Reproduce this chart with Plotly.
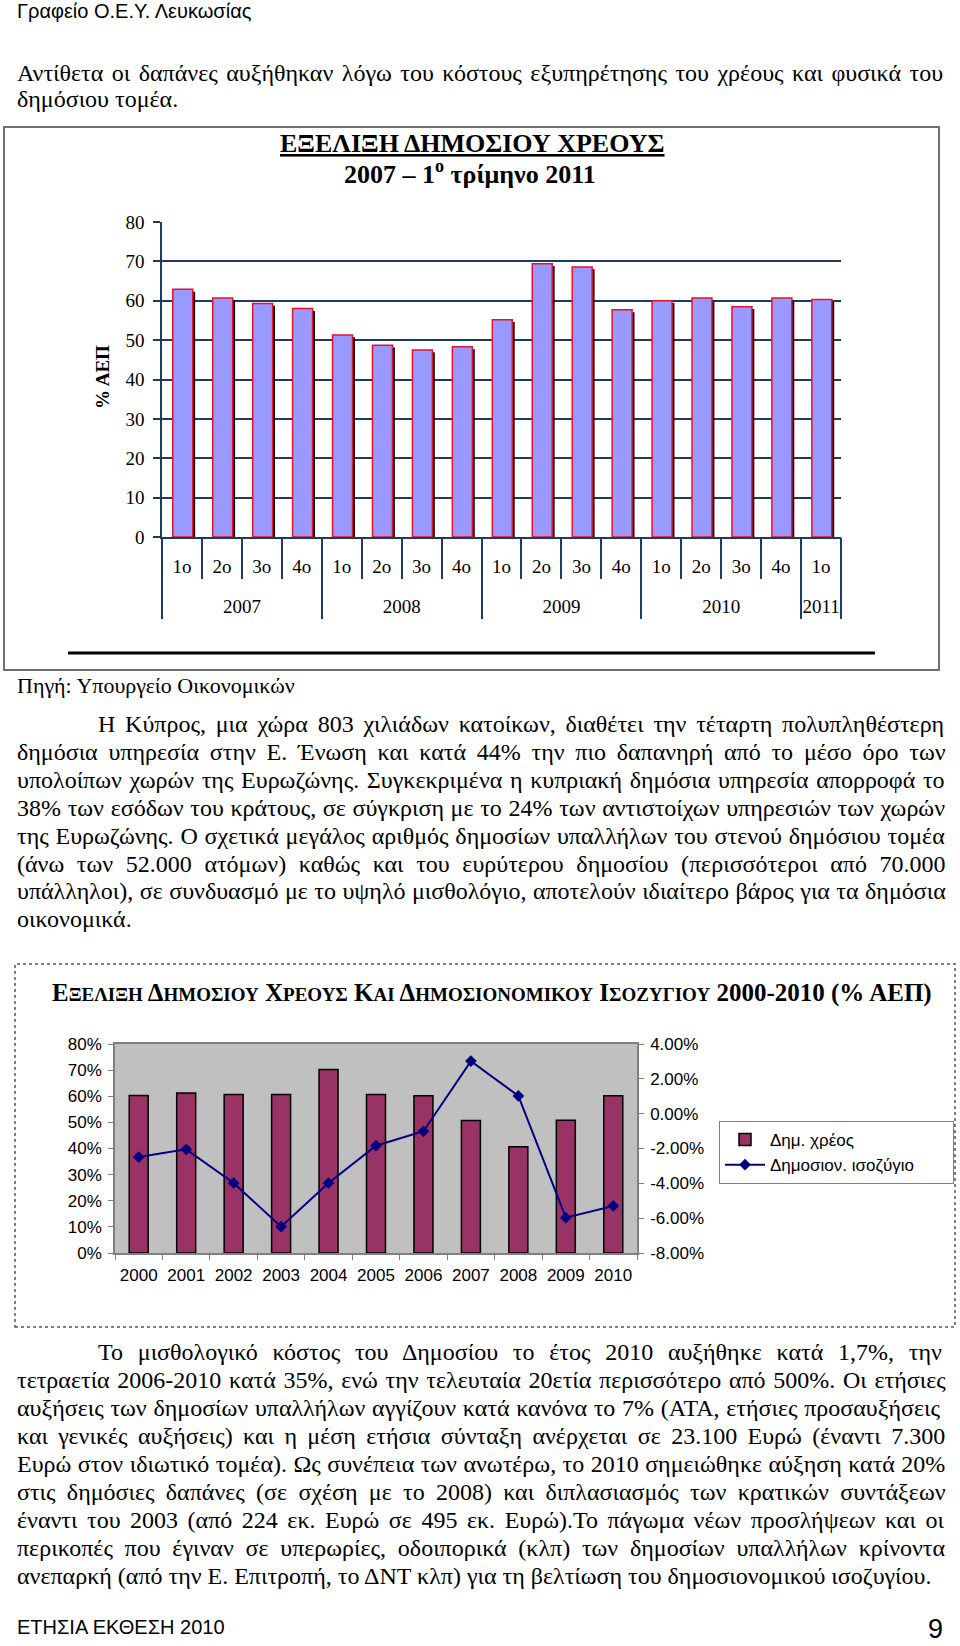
import glob
import struct
import plotly.graph_objects as go

PAGE_W, PAGE_H = 960, 1646

# ---------------- chart 1 data (public debt by quarter, % of GDP) ----------------
years_q = ["2007", "2008", "2009", "2010", "2011"]
quarters_in_year = [4, 4, 4, 4, 1]
quarter_labels = ["1ο", "2ο", "3ο", "4ο", "1ο", "2ο", "3ο", "4ο",
                  "1ο", "2ο", "3ο", "4ο", "1ο", "2ο", "3ο", "4ο", "1ο"]
debt_quarterly = [62.9, 60.7, 59.3, 58.0, 51.3, 48.7, 47.5, 48.3,
                  55.2, 69.4, 68.6, 57.7, 60.0, 60.7, 58.5, 60.7, 60.3]

# ---------------- chart 2 data (annual debt and balance, % of GDP) ----------------
years_a = ["2000", "2001", "2002", "2003", "2004", "2005",
           "2006", "2007", "2008", "2009", "2010"]
debt_annual = [60.3, 61.2, 60.7, 60.7, 70.2, 60.7, 60.2, 50.7, 40.7, 50.8, 60.2]
balance_annual = [-2.49, -2.05, -3.98, -6.49, -3.98, -1.84, -1.01, 3.02, 1.02, -5.97, -5.30]
balance_ticks = [-8, -6, -4, -2, 0, 2, 4]

# ---------------- page texts ----------------
header_text = "Γραφείο Ο.Ε.Υ. Λευκωσίας"
intro_lines = [
    "Αντίθετα οι δαπάνες αυξήθηκαν λόγω του κόστους εξυπηρέτησης του χρέους και φυσικά του",
    "δημόσιου τομέα.",
]
chart1_title = "ΕΞΕΛΙΞΗ ΔΗΜΟΣΙΟΥ ΧΡΕΟΥΣ"
chart1_subtitle = "2007 – 1<sup>ο</sup> τρίμηνο 2011"
chart1_ytitle = "% ΑΕΠ"
source_text = "Πηγή: Υπουργείο Οικονομικών"
para1_lines = [
    "Η Κύπρος, μια χώρα 803 χιλιάδων κατοίκων, διαθέτει την τέταρτη πολυπληθέστερη",
    "δημόσια υπηρεσία στην Ε. Ένωση και κατά 44% την πιο δαπανηρή από το μέσο όρο των",
    "υπολοίπων χωρών της Ευρωζώνης. Συγκεκριμένα η κυπριακή δημόσια υπηρεσία απορροφά το",
    "38% των εσόδων του κράτους, σε σύγκριση με το 24% των αντιστοίχων υπηρεσιών των χωρών",
    "της Ευρωζώνης. Ο σχετικά μεγάλος αριθμός δημοσίων υπαλλήλων του στενού δημόσιου τομέα",
    "(άνω των 52.000 ατόμων) καθώς και του ευρύτερου δημοσίου (περισσότεροι από 70.000",
    "υπάλληλοι), σε συνδυασμό με το υψηλό μισθολόγιο, αποτελούν ιδιαίτερο βάρος για τα δημόσια",
    "οικονομικά.",
]
title2_words = ["ΕΞΕΛΙΞΗ", "ΔΗΜΟΣΙΟΥ", "ΧΡΕΟΥΣ", "ΚΑΙ", "ΔΗΜΟΣΙΟΝΟΜΙΚΟΥ", "ΙΣΟΖΥΓΙΟΥ"]
title2_tail = "2000-2010 (% ΑΕΠ)"
legend_names = ["Δημ. χρέος", "Δημοσιον. ισοζύγιο"]
para2_lines = [
    "Το μισθολογικό κόστος του Δημοσίου το έτος 2010 αυξήθηκε κατά 1,7%, την",
    "τετραετία 2006-2010 κατά 35%, ενώ την τελευταία 20ετία περισσότερο από 500%. Οι ετήσιες",
    "αυξήσεις των δημοσίων υπαλλήλων αγγίζουν κατά κανόνα το 7% (ΑΤΑ, ετήσιες προσαυξήσεις",
    "και γενικές αυξήσεις) και η μέση ετήσια σύνταξη ανέρχεται σε 23.100 Ευρώ (έναντι 7.300",
    "Ευρώ στον ιδιωτικό τομέα). Ως συνέπεια των ανωτέρω, το 2010 σημειώθηκε αύξηση κατά 20%",
    "στις δημόσιες δαπάνες (σε σχέση με το 2008) και διπλασιασμός των κρατικών συντάξεων",
    "έναντι του 2003 (από 224 εκ. Ευρώ σε 495 εκ. Ευρώ).Το πάγωμα νέων προσλήψεων και οι",
    "περικοπές που έγιναν σε υπερωρίες, οδοιπορικά (κλπ) των δημοσίων υπαλλήλων κρίνοντα",
    "ανεπαρκή (από την Ε. Επιτροπή, το ΔΝΤ κλπ) για τη βελτίωση του δημοσιονομικού ισοζυγίου.",
]
footer_left = "ΕΤΗΣΙΑ ΕΚΘΕΣΗ 2010"
footer_right = "9"

SERIF = "Liberation Serif, Times New Roman, serif"
SANS = "Liberation Sans, Arial, sans-serif"
NARROW = "Liberation Sans Narrow, Arial Narrow, Liberation Sans, sans-serif"
NAVY = "#1F3A60"
BODY_SIZE = 24
SOURCE_SIZE = 22
LEGEND_PAD = "\u00a0" * 7


def X(px):
    return px / PAGE_W


def Y(px):
    return 1 - px / PAGE_H


# ---------- font metrics (for justified text lines) ----------
def load_metrics():
    paths = []
    for pat in ["/usr/share/fonts/**/LiberationSerif-Regular.ttf",
                "/usr/local/share/fonts/**/LiberationSerif-Regular.ttf",
                "/usr/share/fonts/**/Liberation*Serif*Regular*.ttf"]:
        paths += glob.glob(pat, recursive=True)
    if not paths:
        return None
    try:
        data = open(paths[0], "rb").read()
        u16 = lambda o: struct.unpack(">H", data[o:o + 2])[0]
        s16 = lambda o: struct.unpack(">h", data[o:o + 2])[0]
        num = u16(4)
        tables = {}
        for i in range(num):
            tag, cs, off, ln = struct.unpack(">4sIII", data[12 + 16 * i:28 + 16 * i])
            tables[tag.decode("latin1")] = off
        upm = u16(tables["head"] + 18)
        nhm = u16(tables["hhea"] + 34)
        hm = tables["hmtx"]
        adv = [u16(hm + 4 * i) for i in range(nhm)]
        cm = tables["cmap"]
        nsub = u16(cm + 2)
        sub = None
        for i in range(nsub):
            pid, eid, so = struct.unpack(">HHI", data[cm + 4 + 8 * i:cm + 12 + 8 * i])
            if pid == 3 and eid == 1 and u16(cm + so) == 4:
                sub = cm + so
        cmap = {}
        seg2 = u16(sub + 6)
        seg = seg2 // 2
        ends = sub + 14
        starts = ends + seg2 + 2
        deltas = starts + seg2
        ranges = deltas + seg2
        for i in range(seg):
            e = u16(ends + 2 * i)
            s = u16(starts + 2 * i)
            d = s16(deltas + 2 * i)
            ro = u16(ranges + 2 * i)
            for c in range(s, e + 1):
                if c == 0xFFFF:
                    continue
                if ro == 0:
                    g = (c + d) & 0xFFFF
                else:
                    g = u16(ranges + 2 * i + ro + 2 * (c - s))
                    if g:
                        g = (g + d) & 0xFFFF
                cmap[c] = g
        return upm, adv, cmap
    except Exception:
        return None


METRICS = load_metrics()


def text_width(s, size):
    if METRICS is None:
        return len(s) * 0.46 * size
    upm, adv, cmap = METRICS
    w = 0
    for ch in s:
        g = cmap.get(ord(ch), 0)
        w += adv[min(g, len(adv) - 1)]
    return w * size / upm


annotations = []


def add_text(text, x, y, size, family=SERIF, xanchor="left", **kw):
    annotations.append(dict(text=text, x=X(x), y=Y(y), xref="paper", yref="paper",
                            xanchor=xanchor, yanchor="middle", showarrow=False,
                            font=dict(family=family, size=size, color="black"), **kw))


def add_paragraph(lines, y0, step, left, right, indent, justify_last=False):
    for i, line in enumerate(lines):
        x0 = left + (indent if i == 0 else 0)
        last = i == len(lines) - 1
        txt = line
        if not last or justify_last:
            n_sp = line.count(" ")
            if n_sp:
                ws = (right - x0 - text_width(line, BODY_SIZE)) / n_sp
                txt = f"<span style='word-spacing:{ws:.2f}px'>{line}</span>"
        add_text(txt, x0, y0 + i * step, BODY_SIZE)


# ---------------- figure ----------------
fig = go.Figure()

# chart 1 bars (shadow + main)
n_q = len(debt_quarterly)
idx = list(range(n_q))
fig.add_trace(go.Bar(x=idx, y=[v - 0.6 for v in debt_quarterly], width=0.5, offset=-0.17,
                     marker=dict(color="black", line=dict(width=0)),
                     xaxis="x", yaxis="y", showlegend=False, hoverinfo="skip"))
fig.add_trace(go.Bar(x=idx, y=debt_quarterly, width=0.5, offset=-0.23,
                     marker=dict(color="#9999FF", line=dict(color="#E8112D", width=1.5)),
                     xaxis="x", yaxis="y", showlegend=False))
# empty traces so that the helper axes of the grouped category axis get drawn
for ax in ["x3", "x4", "x5"]:
    fig.add_trace(go.Scatter(x=[None], y=[None], xaxis=ax, yaxis="y", mode="markers",
                             showlegend=False, hoverinfo="skip"))

# chart 2
fig.add_trace(go.Bar(x=years_a, y=debt_annual, name=legend_names[0], width=0.4,
                     marker=dict(color="#993366", line=dict(color="black", width=1.5)),
                     xaxis="x2", yaxis="y2"))
fig.add_trace(go.Scatter(x=years_a, y=balance_annual, name=legend_names[1] + LEGEND_PAD,
                         mode="lines+markers", line=dict(color="#000080", width=2),
                         marker=dict(symbol="diamond", size=9, color="#000080"),
                         xaxis="x2", yaxis="y3"))

# axis helpers for chart 1 grouped category axis
starts = []
acc = 0
for k in quarters_in_year:
    starts.append(acc)
    acc += k
quarter_bounds = [s + j - 0.5 for s, k in zip(starts, quarters_in_year) for j in range(1, k)]
year_bounds = [s - 0.5 for s in starts] + [n_q - 0.5]
year_centers = [s + (k - 1) / 2 for s, k in zip(starts, quarters_in_year)]
xr = [-0.5, n_q - 0.5]

c1_dom_x = [X(162), X(841)]
c1_dom_y = [Y(537), Y(222)]
c2_dom_x = [X(115), X(637)]
c2_dom_y = [Y(1253), Y(1044)]

tf1 = dict(family=SERIF, size=19, color="black")
tf2 = dict(family=SANS, size=17, color="black")

fig.update_layout(
    width=PAGE_W, height=PAGE_H,
    margin=dict(l=0, r=0, t=0, b=0, pad=0, autoexpand=False),
    paper_bgcolor="white", plot_bgcolor="white", barmode="overlay",
    hovermode=False, font=dict(family=SERIF, color="black"),
    xaxis=dict(domain=c1_dom_x, anchor="y", range=xr, tickmode="array", tickvals=idx,
               ticktext=quarter_labels, ticks="", showgrid=False, zeroline=False,
               showline=True, linecolor=NAVY, linewidth=1.5, tickfont=tf1,
               ticklabelstandoff=11, automargin=False),
    xaxis3=dict(overlaying="x", anchor="y", range=xr, tickmode="array", tickvals=quarter_bounds,
                ticks="outside", ticklen=41, tickwidth=1.5, tickcolor=NAVY,
                showticklabels=False, showgrid=False, zeroline=False, showline=False,
                automargin=False),
    xaxis4=dict(overlaying="x", anchor="y", range=xr, tickmode="array", tickvals=year_bounds,
                ticks="outside", ticklen=81, tickwidth=1.5, tickcolor=NAVY,
                showticklabels=False, showgrid=False, zeroline=False, showline=False,
                automargin=False),
    xaxis5=dict(overlaying="x", anchor="y", range=xr, tickmode="array", tickvals=year_centers,
                ticktext=years_q, ticks="", showgrid=False, zeroline=False, showline=False,
                tickfont=tf1, ticklabelstandoff=56, automargin=False),
    yaxis=dict(domain=c1_dom_y, anchor="x", range=[0, 80], dtick=10, showgrid=True,
               gridcolor=NAVY, gridwidth=1.5, ticks="outside", ticklen=7, tickwidth=1.5,
               tickcolor=NAVY, showline=True, linecolor=NAVY, linewidth=1.5, zeroline=False,
               tickfont=tf1, ticklabelstandoff=5, automargin=False),
    xaxis2=dict(domain=c2_dom_x, anchor="y2", type="category", tickson="boundaries",
                range=[-0.5, len(years_a) - 0.5],
                ticks="outside", ticklen=5, tickcolor="#808080", showline=True, mirror=True,
                linecolor="#808080", linewidth=1.5, showgrid=False, zeroline=False,
                tickfont=tf2, tickangle=0, ticklabelstandoff=6, automargin=False),
    yaxis2=dict(domain=c2_dom_y, anchor="x2", range=[0, 80], dtick=10, ticksuffix="%",
                ticks="outside", ticklen=5, tickcolor="#808080", showline=True,
                linecolor="#808080", linewidth=1.5, showgrid=False, zeroline=False,
                tickfont=tf2, ticklabelstandoff=3, automargin=False),
    yaxis3=dict(overlaying="y2", side="right", anchor="x2", range=[-8, 4],
                tickmode="array", tickvals=balance_ticks,
                ticktext=[f"{v:.2f}%" for v in balance_ticks], ticks="outside", ticklen=5,
                tickcolor="#808080", showline=True, linecolor="#808080", linewidth=1.5,
                showgrid=False, zeroline=False, tickfont=tf2, ticklabelstandoff=3,
                automargin=False),
    legend=dict(x=X(719), y=Y(1121), xanchor="left", yanchor="top", bgcolor="white",
                bordercolor="#808080", borderwidth=1, font=dict(family=SANS, size=17, color="black"),
                itemwidth=40),
)

shapes = [
    # chart 1 frame
    dict(type="rect", xref="paper", yref="paper", x0=X(4), x1=X(939), y0=Y(670), y1=Y(127),
         line=dict(color="#707070", width=2), layer="below"),
    # thick rule under chart 1
    dict(type="line", xref="paper", yref="paper", x0=X(68), x1=X(875), y0=Y(653), y1=Y(653),
         line=dict(color="black", width=3)),
    # chart 2 dotted frame
    dict(type="rect", xref="paper", yref="paper", x0=X(15), x1=X(955), y0=Y(1327), y1=Y(964),
         line=dict(color="#555555", width=1.5, dash="dot"), layer="below"),
    # chart 2 plot-area background
    dict(type="rect", xref="x2 domain", yref="y2 domain", x0=0, x1=1, y0=0, y1=1,
         fillcolor="#C0C0C0", line=dict(width=0), layer="below"),
]

# texts
add_text(header_text, 15, 11, 20, family=NARROW)
add_paragraph(intro_lines, 73, 26, 15, 944, 0)
add_text(f"<b><u>{chart1_title}</u></b>", 472, 143, 26, xanchor="center")
add_text(f"<b>{chart1_subtitle}</b>", 470, 173, 26, xanchor="center")
add_text(f"<b>{chart1_ytitle}</b>", 102, 377, 19, xanchor="center", textangle=-90)
add_text(source_text, 15, 685, SOURCE_SIZE)
add_paragraph(para1_lines, 724, 27.9, 15, 944, 81)
small_caps = " ".join(f"{w[0]}<span style='font-size:19px'>{w[1:]}</span>" for w in title2_words)
add_text(f"<b>{small_caps} {title2_tail}</b>", 492, 993, 25, xanchor="center")
add_paragraph(para2_lines, 1352, 28.0, 15, 944, 81)
add_text(footer_left, 15, 1627, 20, family=NARROW)
add_text(footer_right, 945, 1629, 27, family=NARROW, xanchor="right")

fig.update_layout(annotations=annotations, shapes=shapes)
fig.write_html("out.html", config={"displayModeBar": False},
               post_script="document.body.style.margin='0';"
                           "document.documentElement.style.overflow='hidden';")
